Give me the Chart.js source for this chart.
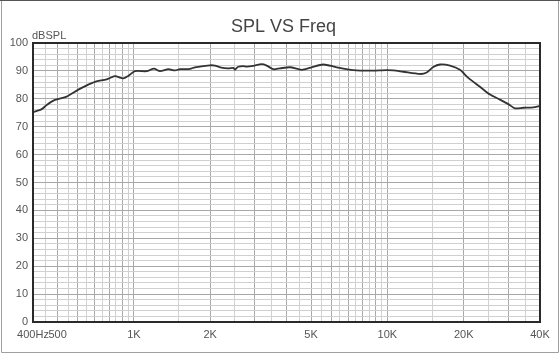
<!DOCTYPE html>
<html>
<head>
<meta charset="utf-8">
<script src="https://cdn.jsdelivr.net/npm/chart.js@4/dist/chart.umd.min.js"></script>
<style>
  html, body { margin: 0; padding: 0; background: #fff; }
  #wrap { width: 560px; height: 357px; position: relative; }
</style>
</head>
<body>
<div id="wrap"><canvas id="c" width="560" height="357"></canvas></div>
<script>
// Frequency (Hz) of each measured point
const freqs = [400, 433, 453, 488, 543, 604, 655, 702, 781, 842, 908, 950,
  1010, 1124, 1200, 1268, 1368, 1452, 1520, 1664, 1742, 1823, 1996, 2089,
  2187, 2357, 2467, 2505, 2580, 2702, 2788, 2959, 3193, 3342, 3549, 3769,
  4129, 4592, 5029, 5588, 6309, 7337, 8540, 9940, 10552, 11560, 13450,
  14290, 15170, 16130, 17670, 19330, 20850, 23190, 25400, 27800, 29990,
  31850, 34370, 37640, 40000];
// SPL (dB) at each frequency
const spl = [75.2, 76.3, 77.8, 79.6, 80.8, 83.3, 84.9, 86.1, 87.0, 88.1, 87.3, 88.2,
  89.9, 89.9, 90.8, 89.9, 90.6, 90.2, 90.6, 90.7, 91.3, 91.5, 92.0, 91.9,
  91.3, 90.9, 91.1, 90.5, 91.5, 91.7, 91.5, 91.8, 92.4, 91.9, 90.6, 90.9,
  91.3, 90.4, 91.3, 92.3, 91.3, 90.3, 90.1, 90.3, 90.2, 89.7, 88.9,
  89.4, 91.4, 92.3, 91.9, 90.4, 87.5, 84.3, 81.5, 79.7, 78.1,
  76.6, 76.8, 76.9, 77.5];

// x grid positions and the labelled ones
const xGridValues = [400, 450, 500, 550, 600, 650, 700, 750, 800, 850, 900, 950,
  1000, 1500, 2000, 2500, 3000, 3500, 4000, 4500, 5000, 5500, 6000, 6500, 7000,
  7500, 8000, 8500, 9000, 9500, 10000, 15000, 20000, 25000, 30000, 35000, 40000];
const xTickValues = [400, 500, 1000, 2000, 5000, 10000, 20000, 40000];
const xTickLabels = ['400Hz', '500', '1K', '2K', '5K', '10K', '20K', '40K'];
const yTickLabels = ['0', '10', '20', '30', '40', '50', '60', '70', '80', '90', '100'];

const title = 'SPL VS Freq';
const yUnit = 'dBSPL';

const points = freqs.map((f, i) => ({ x: f, y: spl[i] }));

function isMajorX(v) {
  const m = v / Math.pow(10, Math.floor(Math.log10(v) + 1e-9));
  return Math.abs(m - Math.round(m)) < 1e-9;
}

const framePlugin = {
  id: 'frame',
  beforeDraw(chart) {
    const ctx = chart.ctx;
    ctx.save();
    ctx.lineWidth = 1;
    ctx.strokeStyle = '#a0a0a0';
    ctx.beginPath();
    ctx.moveTo(1.5, 0.5); ctx.lineTo(1.5, 352.5);
    ctx.lineTo(558.5, 352.5); ctx.lineTo(558.5, 0.5);
    ctx.stroke();
    ctx.strokeStyle = '#555';
    ctx.beginPath();
    ctx.moveTo(0, 0.5); ctx.lineTo(560, 0.5);
    ctx.stroke();
    ctx.restore();
  },
  afterDraw(chart) {
    const ctx = chart.ctx;
    const a = chart.chartArea;
    ctx.save();
    ctx.strokeStyle = '#2a2a2a';
    ctx.lineWidth = 2;
    ctx.strokeRect(a.left, a.top, a.right - a.left, a.bottom - a.top);
    ctx.fillStyle = '#555';
    ctx.font = '11px Arial, "Liberation Sans", sans-serif';
    ctx.textAlign = 'left';
    ctx.textBaseline = 'middle';
    ctx.fillText(yUnit, a.left - 1, 36);
    ctx.fillStyle = '#444';
    ctx.font = '18px Arial, "Liberation Sans", sans-serif';
    ctx.textAlign = 'center';
    ctx.fillText(title, 283.5, 27.5);
    ctx.restore();
  }
};

new Chart(document.getElementById('c'), {
  type: 'line',
  data: {
    datasets: [{
      data: points,
      borderColor: '#333',
      borderWidth: 1.8,
      pointRadius: 0,
      tension: 0.25,
      fill: false
    }]
  },
  options: {
    responsive: false,
    animation: false,
    devicePixelRatio: 1,
    layout: { padding: { left: 0, right: 20, top: 43, bottom: 0 } },
    plugins: {
      legend: { display: false },
      tooltip: { enabled: false },
      title: { display: false }
    },
    scales: {
      x: {
        type: 'logarithmic',
        min: 400,
        max: 40000,
        border: { display: false },
        afterBuildTicks(scale) {
          scale.ticks = xGridValues.map(v => ({ value: v }));
        },
        afterFit(scale) { scale.height = 35; },
        grid: {
          drawTicks: false,
          lineWidth: 1,
          color: (c) => (c.tick && isMajorX(c.tick.value)) ? '#a8a8a8' : '#d0d0d0'
        },
        ticks: {
          autoSkip: false,
          maxRotation: 0,
          minRotation: 0,
          padding: 6,
          color: '#555',
          font: { family: 'Arial, "Liberation Sans", sans-serif', size: 11 },
          callback: (v) => {
            const i = xTickValues.indexOf(v);
            return i >= 0 ? xTickLabels[i] : '';
          }
        }
      },
      y: {
        min: 0,
        max: 100,
        border: { display: false },
        afterFit(scale) { scale.width = 33; },
        grid: {
          drawTicks: false,
          lineWidth: 1,
          color: (c) => (c.tick && c.tick.value % 10 === 0) ? '#a8a8a8' : '#d0d0d0'
        },
        ticks: {
          stepSize: 2,
          autoSkip: false,
          padding: 5,
          color: '#555',
          font: { family: 'Arial, "Liberation Sans", sans-serif', size: 11 },
          callback: (v) => (v % 10 === 0) ? yTickLabels[v / 10] : ''
        }
      }
    }
  },
  plugins: [framePlugin]
});
</script>
</body>
</html>
